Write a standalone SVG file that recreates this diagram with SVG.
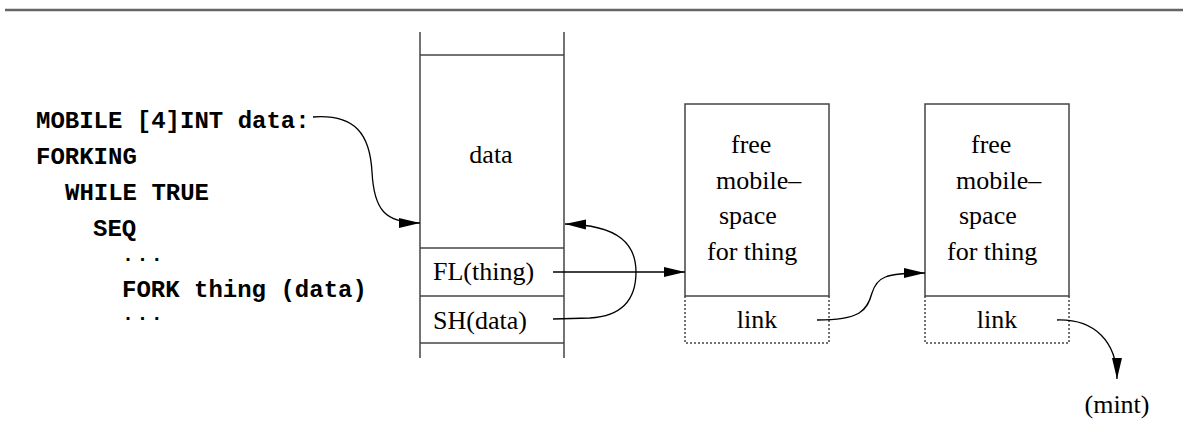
<svg xmlns="http://www.w3.org/2000/svg" width="1183" height="439" viewBox="0 0 1183 439">
<style>
.code{font-family:"Liberation Mono","Courier New",monospace;font-weight:bold;font-size:24px;fill:#000}
.dots{font-family:"Liberation Mono","Courier New",monospace;font-weight:bold;font-size:20px;letter-spacing:2.4px;fill:#000}
.lbl{font-family:"Liberation Serif","Times New Roman",serif;font-size:26px;fill:#000}
.st{stroke:#444;stroke-width:1.5;fill:none}
.dot{stroke:#444;stroke-width:1.5;fill:none;stroke-dasharray:2,2}
.conn{stroke:#000;stroke-width:1.3;fill:none}
</style>
<defs>
<marker id="ah" markerUnits="userSpaceOnUse" markerWidth="22" markerHeight="12" refX="21" refY="5.5" orient="auto">
<path d="M0,0.5 L21,5.5 L0,10.5 z" fill="#000"/>
</marker>
</defs>
<rect width="1183" height="439" fill="#fff"/>
<line x1="5" y1="10" x2="1183" y2="10" stroke="#666" stroke-width="2.5"/>
<g id="code">
<text class="code" x="36" y="128">MOBILE [4]INT data:</text>
<text class="code" x="36" y="164">FORKING</text>
<text class="code" x="65" y="200">WHILE TRUE</text>
<text class="code" x="93" y="236">SEQ</text>
<text class="dots" x="122" y="261">...</text>
<text class="code" x="122" y="297">FORK thing (data)</text>
<text class="dots" x="122" y="320">...</text>
</g>
<g id="stack">
<line class="st" x1="420" y1="32" x2="420" y2="358"/>
<line class="st" x1="564" y1="32" x2="564" y2="358"/>
<line class="st" x1="420" y1="55" x2="564" y2="55"/>
<line class="st" x1="420" y1="248" x2="564" y2="248"/>
<line class="st" x1="420" y1="296" x2="564" y2="296"/>
<line class="st" x1="420" y1="343" x2="564" y2="343"/>
<text class="lbl" x="491" y="163" text-anchor="middle">data</text>
<text class="lbl" x="433" y="280">FL(thing)</text>
<text class="lbl" x="433" y="329">SH(data)</text>
</g>
<g id="box1">
<rect class="st" x="685" y="104" width="144" height="192"/>
<path class="dot" d="M685,296 V343 H829 V296"/>
<text class="lbl" x="731" y="153">free</text>
<text class="lbl" x="716" y="189">mobile–</text>
<text class="lbl" x="719" y="224">space</text>
<text class="lbl" x="707" y="260">for thing</text>
<text class="lbl" x="757" y="328" text-anchor="middle">link</text>
</g>
<g id="box2">
<rect class="st" x="925" y="104" width="144" height="192"/>
<path class="dot" d="M925,296 V343 H1069 V296"/>
<text class="lbl" x="971" y="153">free</text>
<text class="lbl" x="956" y="189">mobile–</text>
<text class="lbl" x="959" y="224">space</text>
<text class="lbl" x="947" y="260">for thing</text>
<text class="lbl" x="997" y="328" text-anchor="middle">link</text>
</g>
<g id="mint">
<text class="lbl" x="1117" y="413" text-anchor="middle">(mint)</text>
</g>
<g id="connectors">
<path class="conn" marker-end="url(#ah)" d="M313,117 C356,114 370,135 372,172 C374,210 385,223 420,223"/>
<path class="conn" marker-end="url(#ah)" d="M553,319 L590,318 C625,316 636,296 636,272 C636,245 620,225 565,224"/>
<path class="conn" marker-end="url(#ah)" d="M553,272 L685,272"/>
<path class="conn" marker-end="url(#ah)" d="M817,320 C860,320 867,311 872,293 C877,277 885,273 925,273"/>
<path class="conn" marker-end="url(#ah)" d="M1057,320 C1095,319 1117,342 1117,379"/>
</g>
</svg>
